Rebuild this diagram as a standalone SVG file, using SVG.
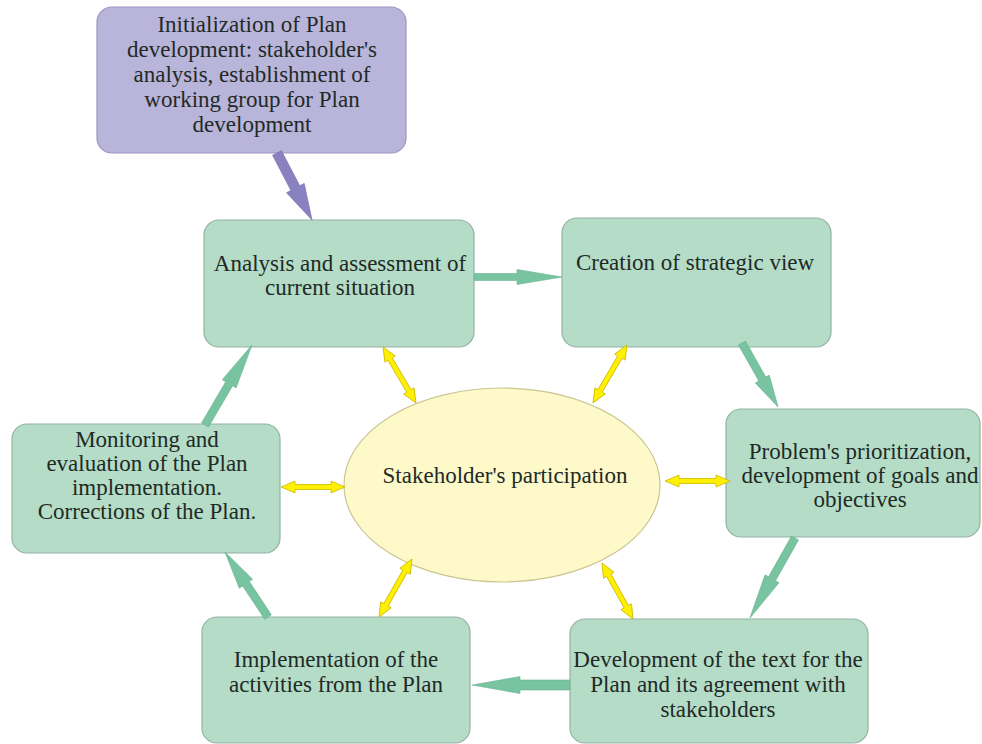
<svg xmlns="http://www.w3.org/2000/svg" width="982" height="744" viewBox="0 0 982 744">
<style>
.box{fill:#b4dcc7;stroke:#93b2a3;stroke-width:1.2}
.pbox{fill:#b9b4da;stroke:#9a95bd;stroke-width:1.2}
.ell{fill:#fdf9c9;stroke:#cbc592;stroke-width:1.2}
text{font-family:"Liberation Serif","Times New Roman",serif;font-size:23px;fill:#1f2a26;text-anchor:middle}
.ga{fill:#78c4a1;stroke:#6ab392;stroke-width:0.6}
.pa{fill:#8a82c0;stroke:#7a72b0;stroke-width:0.6}
.ya{fill:#fff000;stroke:#cdb800;stroke-width:0.8}
</style>
<rect width="982" height="744" fill="#ffffff"/>
<g id="n-init">
<rect class="pbox" x="97" y="7" width="309" height="146" rx="15"/>
<text x="252" y="32">Initialization of Plan</text>
<text x="252" y="57">development: stakeholder's</text>
<text x="252" y="82">analysis, establishment of</text>
<text x="252" y="107">working group for Plan</text>
<text x="252" y="132">development</text>
</g>
<g id="n-analysis">
<rect class="box" x="204" y="220" width="270" height="127" rx="15"/>
<text x="340" y="271">Analysis and assessment of</text>
<text x="340" y="295">current situation</text>
</g>
<g id="n-creation">
<rect class="box" x="562" y="218" width="269" height="129" rx="15"/>
<text x="695" y="270">Creation of strategic view</text>
</g>
<g id="n-problem">
<rect class="box" x="726" y="409" width="254" height="128" rx="15"/>
<text x="860" y="459">Problem's prioritization,</text>
<text x="860" y="483">development of goals and</text>
<text x="860" y="507">objectives</text>
</g>
<g id="n-development">
<rect class="box" x="570" y="619" width="298" height="124" rx="15"/>
<text x="718" y="667">Development of the text for the</text>
<text x="718" y="692">Plan and its agreement with</text>
<text x="718" y="717">stakeholders</text>
</g>
<g id="n-implementation">
<rect class="box" x="202" y="617" width="268" height="126" rx="15"/>
<text x="336" y="667">Implementation of the</text>
<text x="336" y="692">activities from the Plan</text>
</g>
<g id="n-monitoring">
<rect class="box" x="12" y="424" width="268" height="129" rx="15"/>
<text x="147" y="447">Monitoring and</text>
<text x="147" y="471">evaluation of the Plan</text>
<text x="147" y="495">implementation.</text>
<text x="147" y="519">Corrections of the Plan.</text>
</g>
<g id="n-stakeholders">
<ellipse class="ell" cx="502" cy="485" rx="158" ry="97"/>
<text x="505" y="483">Stakeholder's participation</text>
</g>
<g id="connectors">
<path class="pa" transform="translate(277,153) rotate(62.4)" d="M0,-5 H39.6 V-10 L75.6,0 L39.6,10 V5 H0 Z"/>
<path class="ga" transform="translate(474,277) rotate(0)" d="M0,-3.5 H43 V-7.5 L88,0 L43,7.5 V3.5 H0 Z"/>
<path class="ga" transform="translate(742,343) rotate(60.6)" d="M0,-4 H41.4 V-8 L73.4,0 L41.4,8 V4 H0 Z"/>
<path class="ga" transform="translate(795,538) rotate(119.4)" d="M0,-4 H46.8 V-8 L91.8,0 L46.8,8 V4 H0 Z"/>
<path class="ga" transform="translate(570,685) rotate(180)" d="M0,-5 H50 V-8.5 L98,0 L50,8.5 V5 H0 Z"/>
<path class="ga" transform="translate(268,617) rotate(-123.5)" d="M0,-4 H39.9 V-8 L77.9,0 L39.9,8 V4 H0 Z"/>
<path class="ga" transform="translate(205,425) rotate(-59.6)" d="M0,-4 H47.8 V-8 L92.8,0 L47.8,8 V4 H0 Z"/>
<path class="ya" transform="translate(383,347) rotate(59.5)" d="M0,0 L14,-6 V-2.5 H51 V-6 L65,0 L51,6 V2.5 H14 V6 Z"/>
<path class="ya" transform="translate(627,345) rotate(120.4)" d="M0,0 L14,-6 V-2.5 H53.2 V-6 L67.2,0 L53.2,6 V2.5 H14 V6 Z"/>
<path class="ya" transform="translate(281,487) rotate(0)" d="M0,0 L14,-6 V-2.5 H50 V-6 L64,0 L50,6 V2.5 H14 V6 Z"/>
<path class="ya" transform="translate(665,481) rotate(0)" d="M0,0 L14,-6 V-2.5 H51 V-6 L65,0 L51,6 V2.5 H14 V6 Z"/>
<path class="ya" transform="translate(412,559) rotate(119.6)" d="M0,0 L14,-6 V-2.5 H52.7 V-6 L66.7,0 L52.7,6 V2.5 H14 V6 Z"/>
<path class="ya" transform="translate(602,563) rotate(61)" d="M0,0 L14,-6 V-2.5 H50 V-6 L64,0 L50,6 V2.5 H14 V6 Z"/>
</g>
</svg>
